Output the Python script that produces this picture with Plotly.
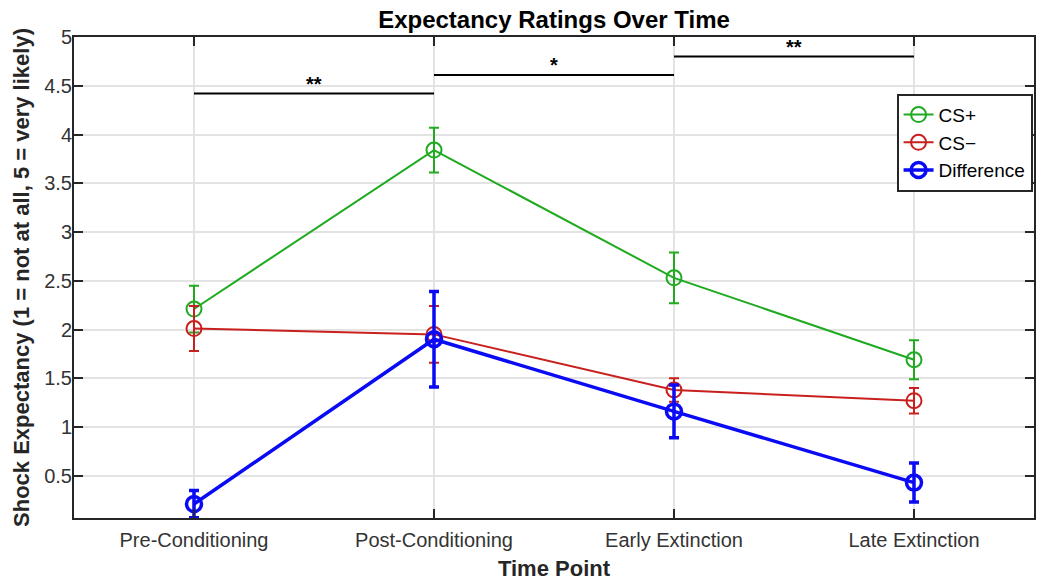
import plotly.graph_objects as go

categories = ["Pre-Conditioning", "Post-Conditioning", "Early Extinction", "Late Extinction"]
cs_plus = [2.21, 3.84, 2.53, 1.69]
cs_plus_err = [0.24, 0.23, 0.26, 0.20]
cs_minus = [2.01, 1.95, 1.38, 1.27]
cs_minus_err = [0.23, 0.29, 0.12, 0.13]
difference = [0.21, 1.90, 1.16, 0.43]
difference_err = [0.14, 0.49, 0.27, 0.20]

# significance brackets: (from index, to index, height, label)
sig_from = [0, 1, 2]
sig_to = [1, 2, 3]
sig_y = [4.42, 4.61, 4.80]
sig_label = ["**", "*", "**"]

x = list(range(1, len(categories) + 1))

series = [
    ("CS+", cs_plus, cs_plus_err, "#1faa1f", 2),
    ("CS\u2212", cs_minus, cs_minus_err, "#c8201e", 2),
    ("Difference", difference, difference_err, "#0a0af5", 3.5),
]

fig = go.Figure()
for name, vals, errs, color, w in series:
    fig.add_trace(go.Scatter(
        x=x, y=vals, name=name, mode="lines+markers",
        line=dict(color=color, width=w),
        marker=dict(symbol="circle-open", size=15, color=color, line=dict(width=w)),
        error_y=dict(type="data", array=errs, visible=True, color=color,
                     thickness=w, width=5),
    ))

for a, b, yv, lab in zip(sig_from, sig_to, sig_y, sig_label):
    fig.add_shape(type="line", x0=x[a], x1=x[b], y0=yv, y1=yv,
                  xref="x", yref="y", line=dict(color="black", width=2))
    fig.add_annotation(x=(x[a] + x[b]) / 2, y=yv, text="<b>" + lab + "</b>", showarrow=False,
                       yshift=10, font=dict(size=20, color="black",
                                            family="Liberation Sans"))

axis_common = dict(
    showline=True, linecolor="#262626", linewidth=2, mirror="ticks",
    ticks="inside", ticklen=9, tickwidth=1.5, tickcolor="#262626",
    showgrid=True, gridcolor="#e3e3e3", gridwidth=1.5, zeroline=False,
    tickfont=dict(family="Liberation Sans", size=20, color="#333333"),
)

fig.update_layout(
    width=1038, height=583,
    margin=dict(l=74, r=2, t=37, b=65),
    paper_bgcolor="white", plot_bgcolor="white",
    font=dict(family="Liberation Sans"),
    title=dict(text="<b>Expectancy Ratings Over Time</b>", x=0.5, xref="paper",
               xanchor="center", y=0.967, yanchor="middle",
               font=dict(size=24, color="black", family="Liberation Sans")),
    xaxis=dict(range=[0.5, 4.5], tickvals=x, ticktext=categories,
               ticklabelstandoff=3,
               title=dict(text="<b>Time Point</b>", standoff=11,
                          font=dict(size=22, color="#262626")),
               **axis_common),
    yaxis=dict(range=[0.067, 5], tickvals=[0.5, 1, 1.5, 2, 2.5, 3, 3.5, 4, 4.5, 5],
               ticktext=["0.5", "1", "1.5", "2", "2.5", "3", "3.5", "4", "4.5", "5"],
               ticklabelstandoff=-4,
               title=dict(text="<b>Shock Expectancy (1 = not at all, 5 = very likely)</b>",
                          standoff=8, font=dict(size=22, color="#262626")),
               **axis_common),
    legend=dict(x=0.9985, y=0.882, xanchor="right", yanchor="top",
                bgcolor="white", bordercolor="#262626", borderwidth=2,
                font=dict(size=19, color="black", family="Liberation Sans"),
                tracegroupgap=0, itemwidth=30),
    showlegend=True,
)

fig.write_html("out.html")
